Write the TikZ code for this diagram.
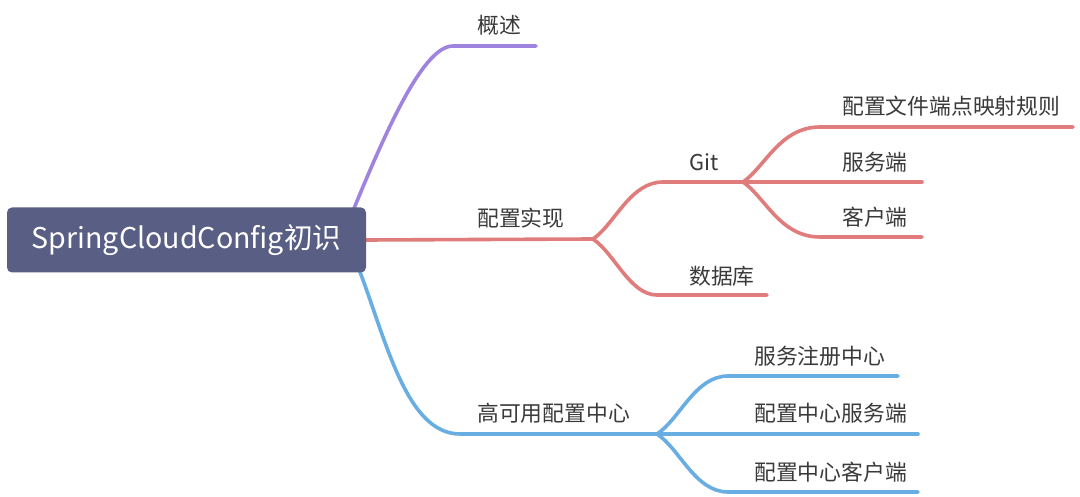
\documentclass[tikz,border=0pt]{standalone}
\usepackage{fontspec}
\setmainfont{Noto Sans CJK SC}
\usetikzlibrary{calc}
\pgfdeclarelayer{background}
\pgfsetlayers{background,main}
\definecolor{rootc}{RGB}{88,94,132}
\definecolor{purp}{RGB}{158,132,222}
\definecolor{redc}{RGB}{224,124,124}
\definecolor{bluec}{RGB}{104,174,226}
\definecolor{txt}{RGB}{58,58,58}
\begin{document}
\begin{tikzpicture}[x=1pt,y=-1pt,
  rootbox/.style={rectangle, rounded corners=5pt, fill=rootc, text=white,
    minimum width=359pt, minimum height=65pt, inner sep=0pt,
    font=\fontsize{28.6}{32}\selectfont},
  lbl/.style={anchor=west, inner sep=0pt, text=txt, font=\fontsize{21.8}{26}\selectfont},
  br/.style={line width=3.6pt, line cap=round, line join=round},
  pbr/.style={br, draw=purp},
  rbr/.style={br, draw=redc},
  bbr/.style={br, draw=bluec}]
\useasboundingbox (0,0) rectangle (1080,497);

\node[rootbox] (root) at (186.5,240) {SpringCloudConfig初识};

% junctions and line ends
\coordinate (p1) at (453,46);  \coordinate (p1e) at (536,46);
\coordinate (rj) at (593,239);
\coordinate (g) at (663,182);  \coordinate (gj) at (743,182);
\coordinate (g1) at (820,127); \coordinate (g1e) at (1073,127);
\coordinate (g2e) at (922,182);
\coordinate (g3) at (820,237); \coordinate (g3e) at (922,237);
\coordinate (d) at (657,295);  \coordinate (de) at (767,295);
\coordinate (b) at (460,434);  \coordinate (bj) at (657,434);
\coordinate (b1) at (728,376); \coordinate (b1e) at (898,376);
\coordinate (b2e) at (918,434);
\coordinate (b3) at (728,492); \coordinate (b3e) at (918,492);

% labels
\node[lbl] (l1) at (477,25) {概述};
\node[lbl] (l2) at (477,218) {配置实现};
\node[lbl] (l21) at (689,162) {Git};
\node[lbl] (l22) at (689,276) {数据库};
\node[lbl] (l211) at (842,106) {配置文件端点映射规则};
\node[lbl] (l212) at (842,162) {服务端};
\node[lbl] (l213) at (842,217) {客户端};
\node[lbl] (l3) at (477,413) {高可用配置中心};
\node[lbl] (l31) at (754,356) {服务注册中心};
\node[lbl] (l32) at (754,413) {配置中心服务端};
\node[lbl] (l33) at (754,472) {配置中心客户端};

\begin{pgfonlayer}{background}
  \fill[white] (0,0) rectangle (1080,497);
  % purple
  \draw[pbr] ($(root.north east)+(-15,8)$) .. controls (390,120) and (425,46) .. (p1) -- (p1e);
  % red
  \draw[rbr] (root.east) -- (rj);
  \draw[rbr] (rj) .. controls (615,224) and (630,182) .. (g) -- (gj);
  \draw[rbr] (rj) .. controls (615,254) and (630,295) .. (d) -- (de);
  \draw[rbr] (gj) .. controls (765,167) and (780,127) .. (g1) -- (g1e);
  \draw[rbr] (gj) -- (g2e);
  \draw[rbr] (gj) .. controls (765,197) and (780,237) .. (g3) -- (g3e);
  % blue
  \draw[bbr] ($(root.south east)+(-9,-8)$) .. controls (385,335) and (405,434) .. (b) -- (bj);
  \draw[bbr] (bj) .. controls (680,419) and (695,376) .. (b1) -- (b1e);
  \draw[bbr] (bj) -- (b2e);
  \draw[bbr] (bj) .. controls (680,449) and (695,492) .. (b3) -- (b3e);
\end{pgfonlayer}
\end{tikzpicture}
\end{document}
